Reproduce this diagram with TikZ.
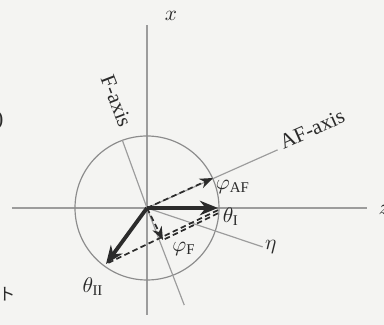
\documentclass[tikz,border=0pt]{standalone}
\usepackage{fontspec}
\setmainfont{Liberation Serif}
\newfontfamily\jpfont{Noto Sans CJK JP}
\usepackage{tikz}
\usetikzlibrary{arrows.meta}
\definecolor{paper}   {HTML}{F4F4F2}
\definecolor{axisgray}{HTML}{9C9C9C}
\definecolor{ringgray}{HTML}{8C8C8C}
\definecolor{ink}     {HTML}{2B2B2B}
\tikzset{
  axisline/.style ={draw=axisgray, line width=0.55pt},
  ringline/.style ={draw=ringgray, line width=0.55pt},
  spinarr/.style  ={-{Stealth[length=3mm,width=2.4mm]}, line width=1.8pt, color=ink},
  halfarr/.style  ={-{Stealth[length=2.2mm,width=1.7mm]}, line width=0.8pt, color=ink,
                    dash pattern=on 2.6pt off 1.6pt},
  guideline/.style={line width=0.8pt, color=ink, dash pattern=on 2.6pt off 1.6pt},
  lbl/.style      ={text=ink, inner sep=1pt},
}

\begin{document}
\begin{tikzpicture}[x=0.47pt,y=0.47pt]
    \fill[paper] (-147,-117) rectangle (237,208);
    \useasboundingbox (-147,-117) rectangle (237,208);

    % page fragments at the left edge
    \node[lbl,anchor=east] (paren) at (-141,88) {)};
    \node[lbl,anchor=east,font=\footnotesize\jpfont] (jpfrag) at (-129,-87) {ット};

    \coordinate (O)    at (0,0);
    \coordinate (xtop) at (0,183);
    \coordinate (xbot) at (0,-107);
    \coordinate (zlft) at (-135,0);
    \coordinate (zrgt) at (220,0);

    % lab axes
    \draw[axisline] (xbot) -- (xtop);
    \draw[axisline] (zlft) -- (zrgt);
    \node[lbl] (xlab) at (24,192) {$x$};
    \node[lbl,anchor=west] (zlab) at (229,-2) {$z$};

    \draw[ringline] (O) circle (72);

    % F, AF and eta axes
    \coordinate (ftop)  at (110:72);
    \coordinate (fbot)  at (-69:104);
    \coordinate (afend) at (24:143);
    \coordinate (etaend) at (-18.6:122);
    \draw[axisline] (ftop) -- (O) -- (fbot);
    \draw[axisline] (O) -- (afend);
    \draw[axisline] (O) -- (etaend);
    \node[lbl,rotate=-69] (flab)  at (106:111) {F-axis};
    \node[lbl,rotate=24]  (aflab) at (25.5:183) {AF-axis};
    \node[lbl,anchor=west] (etalab) at (etaend) {$\eta$};

    % sublattice vectors
    \coordinate (thI)  at (71,0);
    \coordinate (thII) at (-41,-56);
    \coordinate (phAF) at (66,30);
    \coordinate (phF)  at (16,-32);
    \draw[guideline] ([yshift=-1pt]thI) -- (thII);
    \draw[guideline] ([yshift=-2.5pt]thI) -- (phF);
    \draw[halfarr] (O) -- (phAF);
    \draw[halfarr] (O) -- (phF);
    \draw[spinarr] (O) -- (thI);
    \draw[spinarr] (O) -- (thII);

    \node[lbl] (thIlab)  at (84,-9)   {$\theta_{\mathrm{I}}$};
    \node[lbl] (thIIlab) at (-54,-79) {$\theta_{\mathrm{II}}$};
    \node[lbl] (phAFlab) at (86,21)   {$\varphi_{\mathrm{AF}}$};
    \node[lbl] (phFlab)  at (37,-41)  {$\varphi_{\mathrm{F}}$};
  \end{tikzpicture}
\end{document}
